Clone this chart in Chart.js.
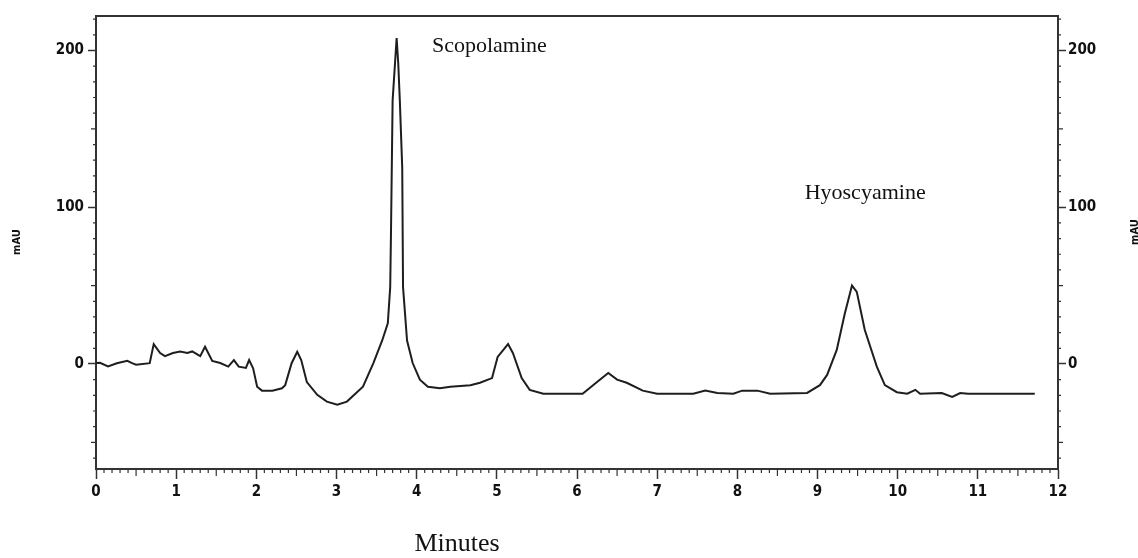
<!DOCTYPE html>
<html lang="en">
<head>
  <meta charset="UTF-8" />
  <title>Chromatogram - Scopolamine / Hyoscyamine</title>
  <script src="https://cdn.jsdelivr.net/npm/chart.js"></script>
  <style>
    html, body {
      margin: 0;
      padding: 0;
      background: #fff;
    }
    canvas {
      display: block;
    }
  </style>
</head>
<body>
  <canvas id="chromChart" width="1138" height="558"></canvas>

  <script>
    // retention time (min) and detector signal (mAU)
    const timeMin = [
      0.00, 0.05, 0.15, 0.26, 0.39, 0.45, 0.50, 0.67, 0.72, 0.80, 0.86, 0.96,
      1.05, 1.14, 1.20, 1.30, 1.36, 1.45, 1.55, 1.65, 1.72, 1.78, 1.87, 1.91,
      1.96, 2.01, 2.07, 2.20, 2.32, 2.36, 2.44, 2.51, 2.56, 2.63, 2.76, 2.88,
      3.01, 3.13, 3.33, 3.46, 3.57, 3.64, 3.67, 3.68, 3.70, 3.75, 3.77, 3.79,
      3.82, 3.83, 3.88, 3.95, 4.04, 4.14, 4.29, 4.42, 4.67, 4.79, 4.94, 5.01,
      5.14, 5.20, 5.31, 5.41, 5.58, 6.07, 6.25, 6.39, 6.50, 6.62, 6.82, 7.00,
      7.45, 7.60, 7.75, 7.95, 8.06, 8.25, 8.41, 8.87, 9.03, 9.12, 9.24, 9.34,
      9.43, 9.49, 9.59, 9.74, 9.84, 9.99, 10.12, 10.22, 10.28, 10.55, 10.68,
      10.78, 10.88, 11.71
    ];
    const signalMAU = [
      0.6, 0.7, -1.5, 0.5, 2, 0.5, -0.5, 0.5, 12.7, 7, 5, 7,
      8, 7, 8, 5, 11, 2, 0.6, -1.7, 2.5, -1.7, -2.5, 2.5,
      -2.7, -14.5, -17, -17, -15.5, -13.5, 0.5, 7.8, 2.5, -11.5, -19.7, -24,
      -26, -24, -14.5, 0.6, 15, 26, 49, 85, 168, 208, 192, 168,
      125, 49, 15, 0.6, -10, -14.5, -15.5, -14.5, -13.5, -12, -9, 4.5,
      12.7, 7, -9, -16.5, -19, -19, -11.5, -5.7, -10, -12, -17, -19,
      -19, -17, -18.5, -19, -17, -17, -19, -18.5, -13.5, -7, 9, 32,
      50, 46, 21.7, -1.7, -13.5, -18, -19, -16.5, -19, -18.5, -21,
      -18.5, -19, -19
    ];

    const xTickValues = [0, 1, 2, 3, 4, 5, 6, 7, 8, 9, 10, 11, 12];
    const yTickValues = [0, 100, 200];
    const peakNames = ["Scopolamine", "Hyoscyamine"];
    const peakNameTime = [4.19, 8.84];
    const peakNameSignal = [199, 105];

    const axisColor = "#333";
    const tickFont = { family: "'DejaVu Sans Condensed', 'Liberation Sans Narrow', sans-serif", size: 15, weight: "bold" };

    const points = timeMin.map((t, i) => ({ x: t, y: signalMAU[i] }));

    // minor ticks, frame top, labels that are not part of an axis
    const decorations = {
      id: "decorations",
      afterDraw(chart) {
        const { ctx, chartArea } = chart;
        const xs = chart.scales.x;
        const yl = chart.scales.y;
        ctx.save();
        ctx.strokeStyle = axisColor;
        ctx.lineWidth = 1.2;

        // x minor ticks every 0.1 min, longer at the half minute
        for (let i = 0; i <= 120; i++) {
          if (i % 10 === 0) continue;
          const px = xs.getPixelForValue(i / 10);
          const len = i % 5 === 0 ? 7 : 4;
          ctx.beginPath();
          ctx.moveTo(px, chartArea.bottom);
          ctx.lineTo(px, chartArea.bottom + len);
          ctx.stroke();
        }

        // y minor ticks every 10 mAU on both sides
        for (let v = -60; v <= 220; v += 10) {
          if (v % 100 === 0) continue;
          const py = yl.getPixelForValue(v);
          const len = v % 50 === 0 ? 5 : 3;
          ctx.beginPath();
          ctx.moveTo(chartArea.left, py);
          ctx.lineTo(chartArea.left - len, py);
          ctx.moveTo(chartArea.right, py);
          ctx.lineTo(chartArea.right + len, py);
          ctx.stroke();
        }

        // top edge of the frame
        ctx.lineWidth = 2;
        ctx.beginPath();
        ctx.moveTo(chartArea.left - 1, chartArea.top);
        ctx.lineTo(chartArea.right + 1, chartArea.top);
        ctx.stroke();

        // peak names
        ctx.fillStyle = "#111";
        ctx.font = "22px 'Liberation Serif', serif";
        ctx.textBaseline = "alphabetic";
        ctx.textAlign = "left";
        peakNames.forEach((name, i) => {
          ctx.fillText(name, xs.getPixelForValue(peakNameTime[i]), yl.getPixelForValue(peakNameSignal[i]));
        });

        // x axis title
        ctx.font = "26px 'Liberation Serif', serif";
        ctx.textAlign = "center";
        ctx.fillText("Minutes", 457, 551);

        // rotated unit labels
        ctx.font = "bold 10px 'DejaVu Sans', sans-serif";
        ctx.textBaseline = "middle";
        [[17, 242], [1135, 232]].forEach(([px, py]) => {
          ctx.save();
          ctx.translate(px, py);
          ctx.rotate(-Math.PI / 2);
          ctx.fillText("mAU", 0, 0);
          ctx.restore();
        });
        ctx.restore();
      }
    };

    const yAxisBase = {
      type: "linear",
      min: -67,
      max: 222,
      afterBuildTicks: (scale) => { scale.ticks = yTickValues.map(v => ({ value: v })); },
      ticks: { color: "#111", font: tickFont, padding: 4 },
      grid: { drawOnChartArea: false, drawTicks: true, tickLength: 8, tickWidth: 1.5, tickColor: axisColor },
      border: { display: true, color: axisColor, width: 2 }
    };

    new Chart(document.getElementById("chromChart"), {
      type: "line",
      data: {
        datasets: [{
          data: points,
          borderColor: "#1e1e1e",
          borderWidth: 2,
          pointRadius: 0,
          tension: 0,
          fill: false
        }]
      },
      options: {
        responsive: false,
        animation: false,
        layout: { padding: { top: 16, left: 0, right: 0, bottom: 0 } },
        plugins: {
          legend: { display: false },
          tooltip: { enabled: false }
        },
        scales: {
          x: {
            type: "linear",
            min: 0,
            max: 12,
            afterBuildTicks: (scale) => { scale.ticks = xTickValues.map(v => ({ value: v })); },
            afterFit: (scale) => { scale.height = 89; },
            ticks: { color: "#111", font: tickFont, padding: 4, maxRotation: 0 },
            grid: { drawOnChartArea: false, drawTicks: true, tickLength: 10, tickWidth: 1.5, tickColor: axisColor },
            border: { display: true, color: axisColor, width: 2 }
          },
          y: Object.assign({}, yAxisBase, {
            position: "left",
            afterFit: (scale) => { scale.width = 96; }
          }),
          y2: Object.assign({}, yAxisBase, {
            position: "right",
            afterFit: (scale) => { scale.width = 80; },
            ticks: { color: "#111", font: tickFont, padding: 2 }
          })
        }
      },
      plugins: [decorations]
    });
  </script>
</body>
</html>
